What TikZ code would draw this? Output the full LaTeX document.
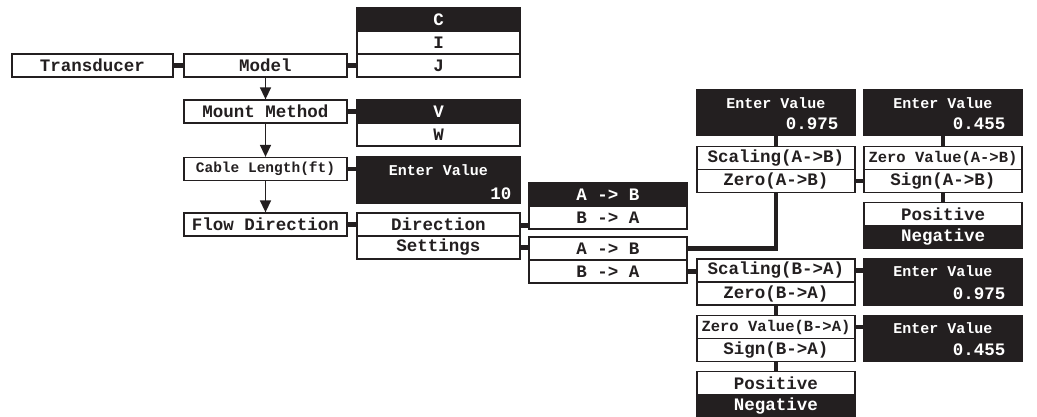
\documentclass[tikz,border=0pt]{standalone}
\usepackage{fontspec}
\usepackage{tikz}
\usetikzlibrary{arrows.meta}
\newfontfamily\cour{Liberation Mono}
\definecolor{ink}{RGB}{35,31,32}

\begin{document}
\begin{tikzpicture}[x=1pt,y=-1pt,
    box/.style={draw=ink,line width=1.3pt,fill=white,text=ink,minimum width=163pt,minimum height=23pt,inner sep=0pt,
      font=\cour\bfseries\fontsize{17.5}{20}\selectfont},
    nbox/.style={box,minimum width=158pt},
    dark/.style={fill=ink,text=white},
    small/.style={font=\cour\bfseries\fontsize{15.5}{18}\selectfont},
    valbox/.style={draw=ink,fill=ink,line width=1.3pt,minimum width=158pt,minimum height=46pt,inner sep=0pt},
    vtxt/.style={text=white,inner sep=0pt,font=\cour\bfseries\fontsize{15}{18}\selectfont},
    vnum/.style={text=white,inner sep=0pt,anchor=east,font=\cour\bfseries\fontsize{17.5}{20}\selectfont},
    conn/.style={draw=ink,line width=4.5pt},
    arr/.style={draw=ink,line width=1.5pt,-{Triangle[length=12pt,width=11pt]}}]
    \useasboundingbox (0,0) rectangle (1037,416);

    \node[box,minimum width=161pt] (trans) at (92.5,65.5) {Transducer};
    \node[box] (model) at (265.5,65.5) {Model};
    \node[box] (mount) at (265.5,111.5) {Mount Method};
    \node[box,font=\cour\bfseries\fontsize{14.5}{17}\selectfont] (cable) at (265.5,169) {Cable Length(ft)};
    \node[box] (flow) at (265.5,224.5) {Flow Direction};

    \node[box,dark] (C) at (438.5,19.5) {C};
    \node[box] (I) at (438.5,42.5) {I};
    \node[box] (J) at (438.5,65.5) {J};
    \node[box,dark] (V) at (438.5,111.5) {V};
    \node[box] (W) at (438.5,134.5) {W};
    \node[valbox,minimum width=163pt] (ev0) at (438.5,180) {};
    \node[vtxt] (ev0t) at ([yshift=-14pt]ev0.north) {Enter Value};
    \node[vnum] (ev0v) at ([xshift=-9pt,yshift=10pt]ev0.south east) {10};
    \node[box] (dir) at (438.5,224.5) {Direction};
    \node[box] (sett) at (438.5,247.5) {Settings};

    \node[nbox,dark] (ab1) at (608,194.5) {A -> B};
    \node[nbox] (ba1) at (608,217.5) {B -> A};
    \node[nbox] (ab2) at (608,248.5) {A -> B};
    \node[nbox] (ba2) at (608,271.5) {B -> A};

    \node[valbox] (ev1) at (776,112.5) {};
    \node[vtxt] (ev1t) at ([yshift=-14pt]ev1.north) {Enter Value};
    \node[vnum] (ev1v) at ([xshift=-17pt,yshift=12pt]ev1.south east) {0.975};
    \node[nbox] (scA) at (776,158) {Scaling(A->B)};
    \node[nbox] (zA) at (776,181) {Zero(A->B)};

    \node[valbox] (ev2) at (943,112.5) {};
    \node[vtxt] (ev2t) at ([yshift=-14pt]ev2.north) {Enter Value};
    \node[vnum] (ev2v) at ([xshift=-17pt,yshift=12pt]ev2.south east) {0.455};
    \node[nbox,small] (zvA) at (943,158) {Zero Value(A->B)};
    \node[nbox] (sgA) at (943,181) {Sign(A->B)};
    \node[nbox] (posA) at (943,214) {Positive};
    \node[nbox,dark] (negA) at (943,237) {Negative};

    \node[nbox] (scB) at (776,270.5) {Scaling(B->A)};
    \node[nbox] (zB) at (776,293.5) {Zero(B->A)};
    \node[valbox] (ev3) at (943,282) {};
    \node[vtxt] (ev3t) at ([yshift=-13pt]ev3.north) {Enter Value};
    \node[vnum] (ev3v) at ([xshift=-17pt,yshift=12pt]ev3.south east) {0.975};
    \node[nbox,small] (zvB) at (776,327) {Zero Value(B->A)};
    \node[nbox] (sgB) at (776,350) {Sign(B->A)};
    \node[valbox] (ev4) at (943,338.5) {};
    \node[vtxt] (ev4t) at ([yshift=-13pt]ev4.north) {Enter Value};
    \node[vnum] (ev4v) at ([xshift=-17pt,yshift=12pt]ev4.south east) {0.455};
    \node[nbox] (posB) at (776,383) {Positive};
    \node[nbox,dark] (negB) at (776,406) {Negative};

    \draw[conn] (trans) -- (model);
    \draw[conn] (model) -- (J);
    \draw[conn] (mount) -- (V);
    \draw[conn] (cable.east) -- (cable.east -| ev0.west);
    \draw[conn] (flow) -- (dir);
    \draw[conn] ([yshift=-1pt]dir.east) -- ([yshift=-1pt]dir.east -| ba1.west);
    \draw[conn] (sett.east) -- (sett.east -| ab2.west);
    \draw[conn] (ab2.east) -| (zA.south);
    \draw[conn] (ev1) -- (scA);
    \draw[conn] (zA) -- (sgA);
    \draw[conn] (ev2) -- (zvA);
    \draw[conn] (sgA) -- (posA);
    \draw[conn] (ba2.east) -- (ba2.east -| scB.west);
    \draw[conn] (scB.east) -- (scB.east -| ev3.west);
    \draw[conn] (zB) -- (zvB);
    \draw[conn] (zvB.east) -- (zvB.east -| ev4.west);
    \draw[conn] (sgB) -- (posB);

    \draw[arr] (model) -- (mount);
    \draw[arr] (mount) -- (cable);
    \draw[arr] (cable) -- (flow);
\end{tikzpicture}
\end{document}
